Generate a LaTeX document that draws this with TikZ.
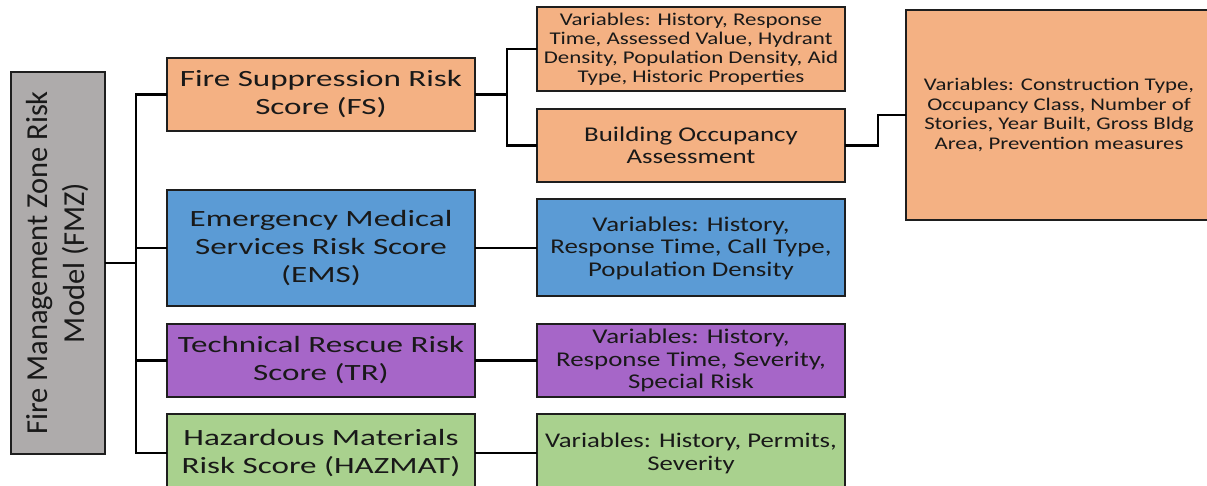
\documentclass[tikz,border=0pt]{standalone}
\usepackage{fontspec}
\setmainfont{Carlito}
\newfontfamily\wideface[FakeStretch=1.42]{Carlito}
\newfontfamily\varface[FakeStretch=1.28]{Carlito}
\definecolor{fsorange}{HTML}{F4B183}
\definecolor{emsblue}{HTML}{5B9BD5}
\definecolor{trpurple}{HTML}{A666C8}
\definecolor{hzgreen}{HTML}{A9D18E}
\definecolor{rootgrey}{HTML}{AEABAB}
\definecolor{edge}{HTML}{1E1E1E}
\tikzset{
  box/.style={draw=edge, line width=2pt, inner sep=0pt, align=center, text=black!90},
  score/.style={box, minimum width=308pt, font=\wideface\fontsize{23.3}{28}\selectfont},
  varbox/.style={box, minimum width=308pt, font=\varface\fontsize{21}{22.5}\selectfont},
  link/.style={line width=2.5pt, black, line cap=rect, line join=miter}
}
\begin{document}
\begin{tikzpicture}[x=1pt, y=-1pt]
\useasboundingbox (0,0) rectangle (1207,486);
\clip (0,0) rectangle (1207,486);

% branching points of the tree
\coordinate (trunk) at (136,263);
\coordinate (fsjoin) at (507,94.5);

% root of the model
\node[box, fill=rootgrey, rotate=90, minimum width=382pt, minimum height=94pt,
      font=\fontsize{30.5}{37}\selectfont] (root) at (58,263)
  {Fire Management Zone Risk\\Model (FMZ)};

% first-level risk scores
\node[score, fill=fsorange, minimum height=73pt] (fs) at (321,94.5)
  {Fire Suppression Risk\\Score (FS)};
\node[score, fill=emsblue, minimum height=116pt] (ems) at (321,248)
  {Emergency Medical\\Services Risk Score\\(EMS)};
\node[score, fill=trpurple, minimum height=73pt] (tr) at (321,360.5)
  {Technical Rescue Risk\\Score (TR)};
\node[score, fill=hzgreen, minimum height=78pt] (haz) at (321,453)
  {Hazardous Materials\\Risk Score (HAZMAT)};

% variables per score
\node[varbox, fill=fsorange, minimum height=84pt,
      font=\varface\fontsize{17.9}{19}\selectfont] (fsvar) at (691,49)
  {Variables: History, Response\\Time, Assessed Value, Hydrant\\Density, Population Density, Aid\\Type, Historic Properties};
\node[varbox, fill=fsorange, minimum height=73pt] (bo) at (691,145.5)
  {Building Occupancy\\Assessment};
\node[box, fill=fsorange, minimum width=306pt, minimum height=210pt,
      font=\varface\fontsize{17.8}{19.6}\selectfont] (bovar) at (1059,115)
  {Variables: Construction Type,\\Occupancy Class, Number of\\Stories, Year Built, Gross Bldg\\Area, Prevention measures};
\node[varbox, fill=emsblue, minimum height=97pt] (emsvar) at (691,248)
  {Variables: History,\\Response Time, Call Type,\\Population Density};
\node[varbox, fill=trpurple, minimum height=73pt] (trvar) at (691,360.5)
  {Variables: History,\\Response Time, Severity,\\Special Risk};
\node[varbox, fill=hzgreen, minimum height=78pt, font=\varface\fontsize{20.9}{23}\selectfont] (hazvar) at (691,453)
  {Variables: History, Permits,\\Severity};

% connectors
\draw[link] (root.south) -- (trunk);
\draw[link] (fs.west) -| (trunk);
\draw[link] (ems.west) -| (trunk);
\draw[link] (tr.west) -| (trunk);
\draw[link] (haz.west) -| (trunk);
\draw[link] (fs.east) -- (fsjoin);
\draw[link] (fsvar.west) -| (fsjoin);
\draw[link] (bo.west) -| (fsjoin);
\draw[link] (bo.east) -- ++(32,0) |- (bovar.west);
\draw[link] (ems.east) -- (emsvar.west);
\draw[link] (tr.east) -- (trvar.west);
\draw[link] (haz.east) -- (hazvar.west);
\end{tikzpicture}
\end{document}
